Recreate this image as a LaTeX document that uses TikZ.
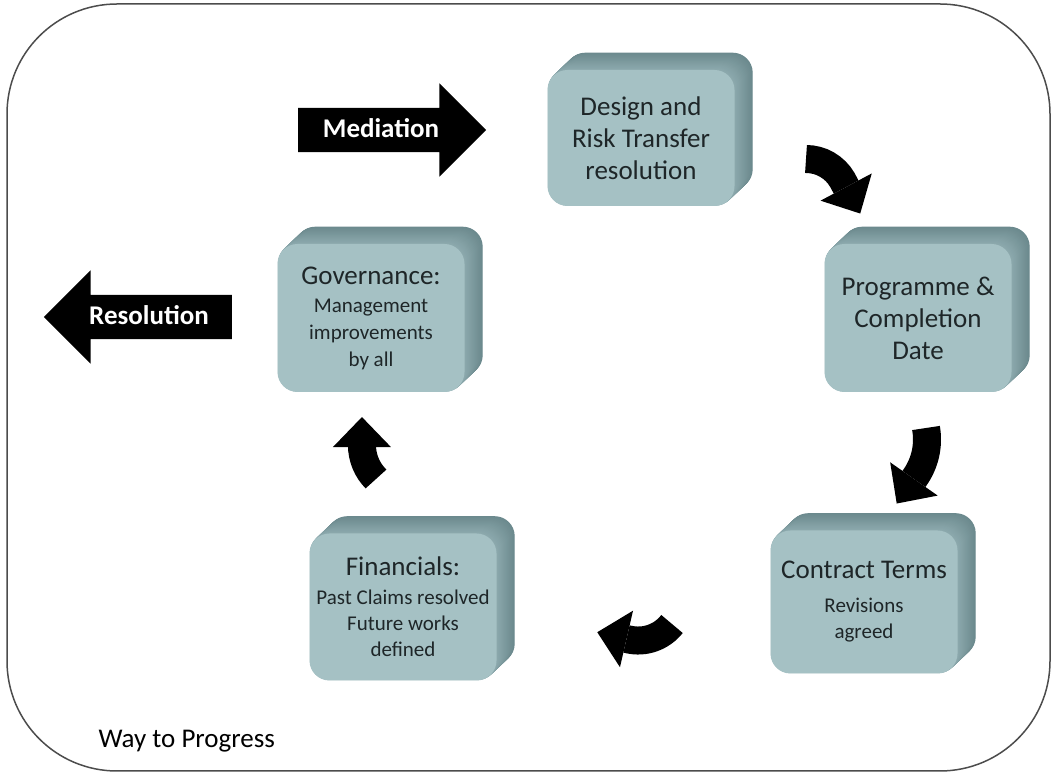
\documentclass[tikz,border=0pt]{standalone}
\usepackage{fontspec}
\setmainfont{Carlito}
\usetikzlibrary{arrows.meta,shapes.arrows,backgrounds}
\definecolor{boxface}{HTML}{A5C1C4}
\definecolor{boxside}{HTML}{8DAAAE}
\definecolor{boxback}{HTML}{5E7C80}
\definecolor{boxtext}{HTML}{1E2628}
\newcommand{\bigtxt}{\fontsize{27}{32}\selectfont}
\newcommand{\smalltxt}{\fontsize{21}{27}\selectfont}

\begin{document}
\begin{tikzpicture}[x=1pt, y=1pt, font=\bigtxt,
    slab/.style={rounded corners=20pt, fill=boxface, text=boxtext, align=center,
        inner sep=0pt, minimum width=187pt, minimum height=148pt},
    blockarrow/.style={single arrow, fill=black, text=white, font=\bigtxt\bfseries,
        minimum height=188pt, minimum width=93pt, single arrow head extend=24.5pt,
        single arrow head indent=0pt, text height=19pt, text depth=3pt, inner ysep=11pt},
    cyclearrow/.style={line width=28pt, -{Triangle[width=58pt, length=30pt, line width=0pt]}}]
    \useasboundingbox (0,0) rectangle (1052,776);
    \draw [line width=1.5pt, black!70, rounded corners=110pt] (7,5) rectangle (1050,772);

    \node [slab, minimum height=136pt] (design) at (641,638) {Design and\\Risk Transfer\\resolution};
    \node [slab] (programme) at (918,458) {Programme \&\\Completion\\Date};
    \node [slab, minimum height=143pt] (contract) at (864,174)
        {Contract Terms\\[2pt]\smalltxt Revisions\\[-6pt]\smalltxt agreed};
    \node [slab, minimum height=147pt] (financials) at (403,169)
        {Financials:\\[-3pt]\smalltxt Past Claims resolved\\[-6pt]\smalltxt Future works\\[-6pt]\smalltxt defined};
    \node [slab] (governance) at (371,458)
        {Governance:\\[-4pt]\smalltxt Management\\[-5pt]\smalltxt improvements\\[-5pt]\smalltxt by all};

    \begin{scope}[on background layer]
        \foreach \n in {design,programme,contract,financials,governance}
            \foreach \k in {18,17.5,...,0.5} {
                \pgfmathtruncatemacro\p{100-4*\k}
                \fill [boxside!\p!boxback, rounded corners=20pt]
                    ([shift={(\k,0.95*\k)}]\n.south west) rectangle ([shift={(\k,0.95*\k)}]\n.north east);
            }
    \end{scope}

    \node [blockarrow] (mediation) at (381,646) {Mediation};
    \node [blockarrow, shape border rotate=180] (resolution) at (149,459) {Resolution};

    \coordinate (d2p) at (806,617);
    \coordinate (p2c) at (926,348);
    \coordinate (c2f) at (672,152);
    \coordinate (f2g) at (376,297);
    \draw [cyclearrow] (d2p) arc [start angle=90, end angle=30, radius=42pt] -- ++(-62:38pt);
    \draw [cyclearrow] (p2c) arc [start angle=10, end angle=-35, radius=66pt] -- ++(-125:32pt);
    \draw [cyclearrow] (c2f) arc [start angle=-38, end angle=-103, radius=43pt] -- ++(167:32pt);
    \draw [cyclearrow] (f2g) arc [start angle=225, end angle=180, radius=48pt] -- ++(90:28pt);

    \node [anchor=base west] (way) at (95,28) {Way to Progress};
\end{tikzpicture}
\end{document}
